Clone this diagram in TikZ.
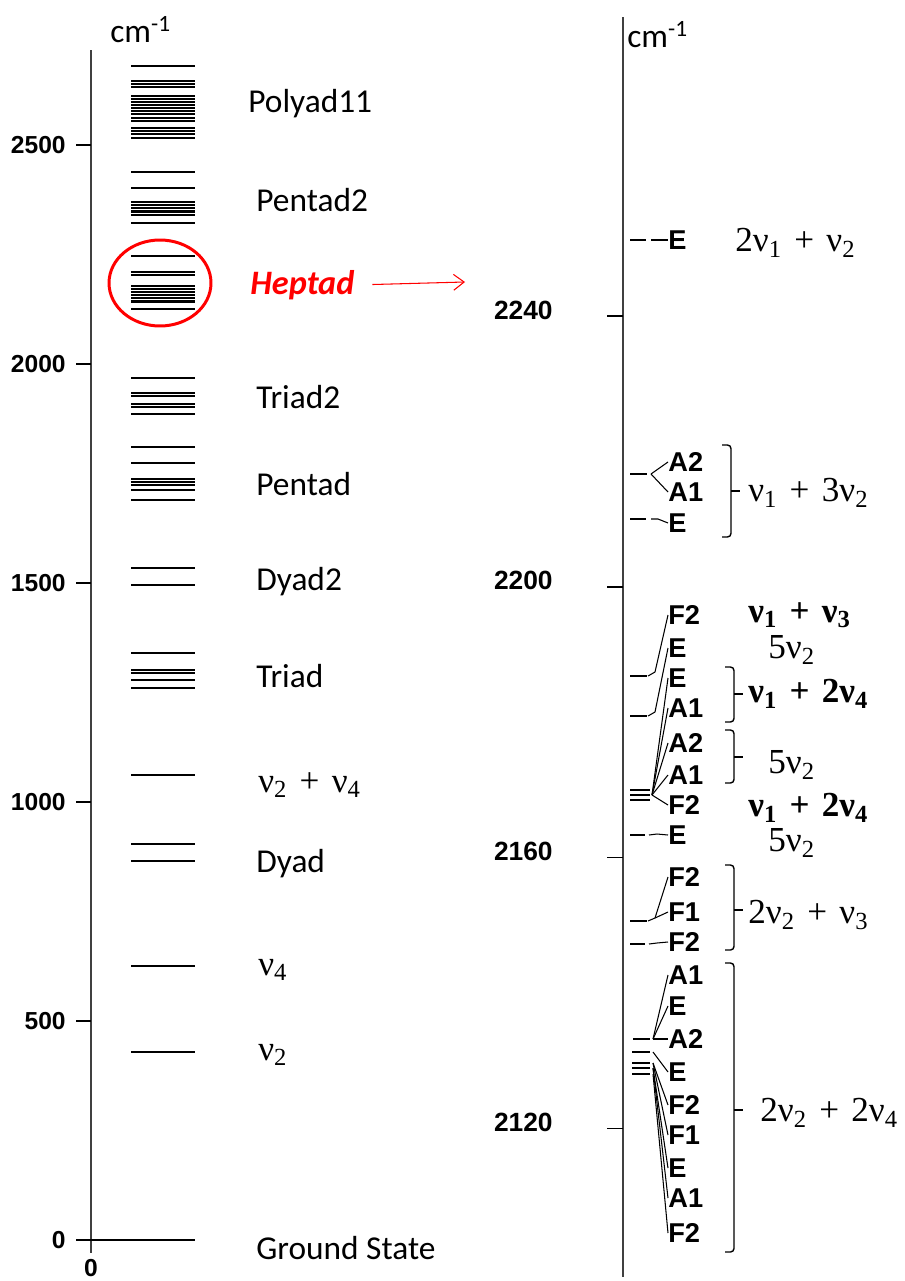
\documentclass[tikz,border=0pt]{standalone}
\usepackage{fontspec}
\setmainfont{Carlito}
\newfontfamily\axisfont{Liberation Sans}
\newfontfamily\termfont{Liberation Serif}
\usetikzlibrary{calc,arrows.meta}

\newcommand{\nusub}[1]{ν\textsubscript{#1}}
\newcommand{\pl}{\hspace{0.35em}+\hspace{0.35em}}

\tikzset{
  lev/.style={line width=0.8pt},
  levthick/.style={line width=1.2pt},
  axtick/.style={line width=0.9pt},
  axis/.style={line width=1.1pt, draw=black!75},
  ticklabel/.style={font=\axisfont\bfseries\fontsize{14}{14}\selectfont, anchor=east, inner sep=0pt},
  band/.style={font=\fontsize{19}{19}\selectfont, anchor=west, inner sep=0pt},
  sym/.style={font=\axisfont\bfseries\fontsize{15.5}{15.5}\selectfont, anchor=west, inner sep=0pt},
  term/.style={font=\termfont\fontsize{20}{20}\selectfont, anchor=west, inner sep=0pt},
  termb/.style={font=\termfont\bfseries\fontsize{20}{20}\selectfont, anchor=west, inner sep=0pt},
  link/.style={line width=0.6pt},
  grp/.style={line width=0.8pt, rounded corners=2pt},
}

\begin{document}
\begin{tikzpicture}[x=0.02cm, y=-0.02cm]
  \useasboundingbox (0,0) rectangle (905,1281);

  % overview axis
  \draw[axis] (91,50) -- (91,1253);
  \foreach \v in {0,500,...,2500} {
    \draw[axtick] (76,{1240-0.438*\v}) -- (91,{1240-0.438*\v});
    \node[ticklabel] (tl\v) at (66,{1240-0.438*\v}) {\v};
  }
  \node[ticklabel, anchor=center] (zero) at (91,1268) {0};
  \node[band] (cmL) at (110,30) {cm\textsuperscript{-1}};

  % vibrational levels
  \foreach \y in {172,256,378,447,568,653,775,966,1052}
    \draw[lev] (131,\y) -- (195,\y);
  \foreach \y in {66,81,84,87,96,99,102,105,108,111,114,118,121,128,131,134,138,
                  188,202,205,208,211.5,215,223,
                  272,275,286,289,292,295,298,301.5,309,
                  393,396,404,407,414,
                  463,479,482,485,490,500,
                  585,670,673,680,688,844,861}
    \draw[levthick] (131,\y) -- (195,\y);
  \draw[lev] (76,1240) -- (195,1240);

  \node[band] (p11) at (248,104) {Polyad11};
  \node[band] (pent2) at (256,200) {Pentad2};
  \node[band, text=red, font=\bfseries\itshape\fontsize{19.5}{19.5}\selectfont] (hept) at (250,285) {Heptad};
  \node[band] (tri2) at (256,397) {Triad2};
  \node[band] (pent) at (256,484) {Pentad};
  \node[band] (dy2) at (256,582) {Dyad2};
  \node[band] (tri) at (256,676) {Triad};
  \node[term] (comb) at (258,785) {\nusub2\pl\nusub4};
  \node[band] (dy) at (256,864) {Dyad};
  \node[term] (nu4) at (258,970) {\nusub4};
  \node[term] (nu2) at (258,1055) {\nusub2};
  \node[band] (gs) at (256,1248) {Ground State};

  % zoom on the heptad
  \draw[red, line width=1.7pt] (160,283) ellipse [x radius=1.02cm, y radius=0.86cm];
  \coordinate (zoomto) at (465,282);
  \draw[red, line width=0.6pt, -{Straight Barb[length=6pt,width=9pt]}, shorten <=10pt] (hept.east) -- (zoomto);

  % heptad axis
  \draw[axis] (623,17) -- (623,1277);
  \foreach \v in {2120,2160,2200,2240} {
    \draw[axtick] (607,{316+(2240-\v)*6.77}) -- (623,{316+(2240-\v)*6.77});
    \node[ticklabel, font=\axisfont\bfseries\fontsize{15}{15}\selectfont] (rl\v) at (553,{310+(2240-\v)*6.77}) {\v};
  }
  \node[band] (cmR) at (627,35) {cm\textsuperscript{-1}};

  % 2v1+v2
  \node[sym] (e0) at (668,240) {E};
  \draw[lev] (630,240) -- (646,240);
  \draw[link] (651,240) -- (e0.west);
  \node[term] (t0) at (735,243) {2\nusub1\pl\nusub2};

  % v1+3v2
  \node[sym] (a2) at (668,462) {A2};
  \node[sym] (a1) at (668,492) {A1};
  \node[sym] (e1) at (668,523) {E};
  \draw[lev] (630,474) -- (647,474);
  \draw[lev] (630,519) -- (646,519);
  \coordinate (k1) at (651,474);
  \draw[link] (k1) -- (a2.west);
  \draw[link] (k1) -- (a1.west);
  \draw[link] (651,519) -- (658,519) -- (e1.west);
  \draw[grp] (722,445) -- (731,445) -- (731,537) -- (722,537);
  \draw[grp] (731,491) -- (740,491);
  \node[term] (t1) at (748,493) {\nusub1\pl 3\nusub2};

  % v1+v3, v1+2v4, 5v2
  \node[sym] (f2a) at (668,615) {F2};
  \node[sym] (ea) at (668,648) {E};
  \node[sym] (eb) at (668,678) {E};
  \node[sym] (a1a) at (668,708) {A1};
  \node[sym] (a2a) at (668,743) {A2};
  \node[sym] (a1b) at (668,775) {A1};
  \node[sym] (f2b) at (668,805) {F2};
  \node[sym] (ec) at (668,835) {E};
  \draw[lev] (630,676) -- (647,676);
  \draw[lev] (630,716) -- (647,716);
  \foreach \y in {790,795,800}
    \draw[lev] (630,\y) -- (650,\y);
  \draw[lev] (630,835) -- (645,835);
  \draw[link] (648,676) -- (655,672) -- (f2a.west);
  \draw[link] (648,716) -- (655,712) -- (ea.west);
  \coordinate (k2) at (652,795);
  \foreach \n in {eb,a1a,a2a,a1b,f2b}
    \draw[link] (k2) -- (\n.west);
  \draw[link] (649,835) -- (657,834) -- (ec.west);
  \node[termb] (t2) at (748,615) {\nusub1\pl\nusub3};
  \node[term] (t3) at (768,650) {5\nusub2};
  \draw[grp] (725,667) -- (734,667) -- (734,722) -- (725,722);
  \draw[grp] (734,694) -- (743,694);
  \node[termb] (t4) at (748,694) {\nusub1\pl 2\nusub4};
  \draw[grp] (725,730) -- (734,730) -- (734,783) -- (725,783);
  \draw[grp] (734,757) -- (743,757);
  \node[term] (t5) at (768,765) {5\nusub2};
  \node[termb] (t6) at (748,808) {\nusub1\pl 2\nusub4};
  \node[term] (t7) at (768,843) {5\nusub2};

  % 2v2+v3
  \node[sym] (f2c) at (668,877) {F2};
  \node[sym] (f1a) at (668,912) {F1};
  \node[sym] (f2d) at (668,942) {F2};
  \draw[lev] (630,921) -- (647,921);
  \draw[lev] (630,944) -- (645,944);
  \coordinate (k3) at (655,918);
  \draw[link] (648,921) -- (k3) -- (f2c.west);
  \draw[link] (k3) -- (f1a.west);
  \draw[link] (649,944) -- (657,943) -- (f2d.west);
  \draw[grp] (725,865) -- (734,865) -- (734,950) -- (725,950);
  \draw[grp] (734,910) -- (743,910);
  \node[term] (t8) at (748,915) {2\nusub2\pl\nusub3};

  % 2v2+2v4
  \node[sym] (a1c) at (668,975) {A1};
  \node[sym] (ed) at (668,1006) {E};
  \node[sym] (a2b) at (668,1039) {A2};
  \node[sym] (ee) at (668,1072) {E};
  \node[sym] (f2e) at (668,1105) {F2};
  \node[sym] (f1b) at (668,1135) {F1};
  \node[sym] (ef) at (668,1168) {E};
  \node[sym] (a1d) at (668,1198) {A1};
  \node[sym] (f2f) at (668,1233) {F2};
  \draw[levthick] (633,1039) -- (650,1039);
  \foreach \y in {1052,1063,1068,1074}
    \draw[lev] (632,\y) -- (650,\y);
  \coordinate (k4) at (653,1039);
  \foreach \n in {a1c,ed,a2b}
    \draw[link] (k4) -- (\n.west);
  \draw[link] (653,1052) -- (ee.west);
  \draw[link] (653,1063) -- (f2e.west);
  \draw[link] (653,1063) -- (f1b.west);
  \draw[link] (653,1068) -- (ef.west);
  \draw[link] (653,1068) -- (a1d.west);
  \draw[link] (653,1074) -- (f2f.west);
  \draw[grp] (725,963) -- (734,963) -- (734,1252) -- (725,1252);
  \draw[grp] (734,1110) -- (743,1110);
  \node[term] (t9) at (760,1113) {2\nusub2\pl 2\nusub4};
\end{tikzpicture}
\end{document}
